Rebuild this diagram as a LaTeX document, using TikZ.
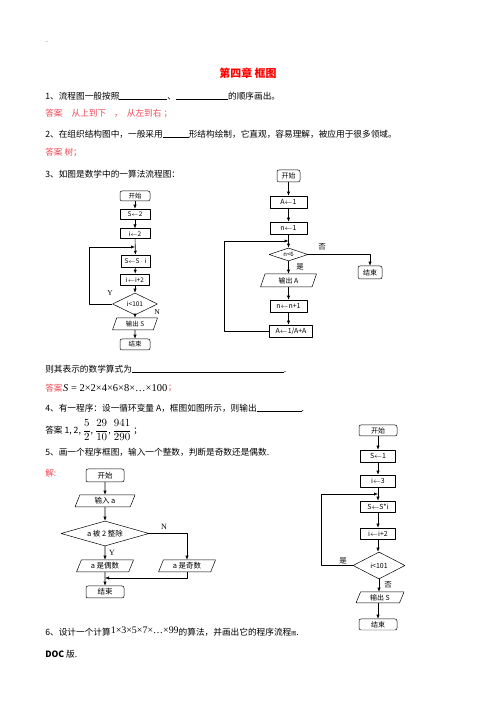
\documentclass[tikz,border=0pt]{standalone}
\usepackage{fontspec}
\setmainfont{Noto Sans CJK SC}
\newfontfamily\tms{Liberation Serif}
\usetikzlibrary{shapes.geometric,arrows.meta}
\definecolor{ansred}{RGB}{240,72,84}
\definecolor{titlered}{RGB}{255,0,0}
\newcommand\fsz[1]{\fontsize{#1}{#1}\selectfont}
\newcommand\blank[1]{\rule[-1.2pt]{#1bp}{0.8pt}}
\tikzset{
  txt/.style={anchor=west,inner sep=0pt,font=\fsz{8.7}},
  ans/.style={txt,text=ansred},
  flow/.style={draw,line width=0.5pt,inner sep=0pt,font=\fsz{7}},
  term/.style={flow,rectangle,rounded corners=2pt},
  proc/.style={flow,rectangle},
  io/.style={flow,trapezium,trapezium left angle=55,trapezium right angle=125,trapezium stretches body},
  cond/.style={flow,diamond},
  lbl/.style={inner sep=0pt,font=\fsz{7.5}},
}
\begin{document}
\begin{tikzpicture}[>={Latex[length=4bp,width=3.2bp]},line join=bevel,line width=0.6pt]
%%
\useasboundingbox (0,0) rectangle (496bp,702bp);
\node (dots) at (45bp,660bp) [txt,font=\fsz{5}] {..};
\node (title) at (248bp,629bp) [font=\fsz{11}\bfseries,text=titlered] {第四章\ 框图};
\node (q1) at (45bp,606bp) [txt] {1、流程图一般按照\blank{48}、\blank{52}的顺序画出。};
\node (a1txt) at (45bp,588bp) [ans] {答案\hspace{9pt}从上到下\hspace{8pt}，\hspace{4pt}从左到右\hspace{2pt}；};
\node (q2) at (45bp,568bp) [txt] {2、在组织结构图中，一般采用\blank{26}形结构绘制，它直观，容易理解，被应用于很多领域。};
\node (a2txt) at (45bp,549bp) [ans] {答案\ 树；};
\node (q3) at (45bp,528bp) [txt] {3、如图是数学中的一算法流程图：};
\node (q3b) at (45bp,333bp) [txt] {则其表示的数学算式为\blank{152}.};
\node (a3txt) at (45bp,314bp) [ans] {答案};
\node (a3math) at (a3txt.east) [txt,text=black,font=\tms\fsz{10.5}] {\textit{S} = 2×2×4×6×8×…×100};
\node (a3end) at (a3math.east) [ans] {；};
\node (q4) at (45bp,294bp) [txt] {4、有一程序：设一循环变量 A，框图如图所示，则输出\blank{45}.};
\node (a4txt) at (45bp,272bp) [txt] {答案 1, 2, {\fsz{11}$\displaystyle\frac{5}{2}$}, {\fsz{11}$\displaystyle\frac{29}{10}$}, {\fsz{11}$\displaystyle\frac{941}{290}$} ；};
\node (q5) at (45bp,250bp) [txt] {5、画一个程序框图，输入一个整数，判断是奇数还是偶数.};
\node (a5txt) at (45bp,229bp) [ans] {解:};
\node (q6) at (45bp,70bp) [txt] {6、设计一个计算\raisebox{2pt}{\tms\fsz{10}1×3×5×7×…×99}的算法，并画出它的程序流程{\fsz{5}图}.};
\node (doc) at (45bp,48bp) [txt] {{\bfseries DOC} 版.};
%
\begin{scope}[flow/.append style={font=\fsz{6.5}}]
\node (st1) at (135bp,506bp) [term,minimum width=30bp,minimum height=10bp] {开始};
\node (a1) at (135bp,488bp) [proc,minimum width=30bp,minimum height=10bp] {S$\leftarrow$2};
\node (b1) at (135bp,468.5bp) [proc,minimum width=30bp,minimum height=9.5bp] {i$\leftarrow$2};
\coordinate (j1) at (135bp,455bp);
\node (c1) at (135.5bp,441bp) [proc,minimum width=29bp,minimum height=12bp] {S$\leftarrow$S $\cdot$ i};
\node (d1) at (135bp,422.5bp) [proc,minimum width=29bp,minimum height=11bp] {i$\leftarrow$i+2};
\node (e1) at (135bp,398bp) [cond,minimum width=45bp,minimum height=22bp,aspect=2] {i<101};
\node (f1) at (135bp,378bp) [io,minimum width=45bp,minimum height=12bp] {输出 S};
\node (g1) at (135bp,357.5bp) [term,minimum width=30bp,minimum height=11bp] {结束};
\end{scope}
\node (y1) at (110bp,409bp) [lbl,font=\fsz{7.5}\tms] {Y};
\node (n1) at (157bp,390bp) [lbl,font=\fsz{7.5}\tms] {N};
\draw [->] (st1) -- (a1);
\draw [->] (a1) -- (b1);
\draw [->] (b1) -- (c1);
\draw [->] (c1) -- (d1);
\draw [->] (d1) -- (e1);
\draw [->] (e1) -- (f1);
\draw [->] (f1) -- (g1);
\draw [->] (e1.west) -- ++(-22.5bp,0) |- (j1);
%
\node (st2) at (288.5bp,526bp) [term,minimum width=23bp,minimum height=12bp] {开始};
\node (a2) at (288.5bp,500bp) [proc,minimum width=37bp,minimum height=12bp] {A$\leftarrow$1};
\node (b2) at (288.5bp,474bp) [proc,minimum width=37bp,minimum height=12bp] {n$\leftarrow$1};
\coordinate (j2) at (288.5bp,461bp);
\node (d2) at (288.5bp,447.5bp) [cond,minimum width=39bp,minimum height=13bp,aspect=3,font=\fsz{6}] {n<6};
\node (e2) at (370bp,429.5bp) [term,minimum width=24bp,minimum height=13bp] {结束};
\node (f2) at (288.5bp,421.5bp) [io,minimum width=56bp,minimum height=13bp] {输出 A};
\node (g2) at (288.5bp,396bp) [proc,minimum width=37bp,minimum height=12bp] {n$\leftarrow$n+1};
\node (h2) at (291bp,371bp) [proc,minimum width=43bp,minimum height=12bp] {A$\leftarrow$1/A+A};
\node (no2) at (322bp,455bp) [lbl] {否};
\node (yes2) at (300bp,435bp) [lbl] {是};
\draw [->] (st2) -- (a2);
\draw [->] (a2) -- (b2);
\draw [->] (b2) -- (d2);
\draw [->] (d2) -- (f2);
\draw [->] (f2) -- (g2);
\draw [->] (g2) -- (g2 |- h2.north);
\draw [->] (d2.east) -| (e2);
\draw [->] (h2.west) -- ++(-44.5bp,0) |- (j2);
%
\begin{scope}[flow/.append style={font=\fsz{7.5}}]
\node (st3) at (105bp,226.5bp) [term,minimum width=38bp,minimum height=13bp] {开始};
\node (a3) at (105bp,201bp) [io,minimum width=60bp,minimum height=12bp] {输入 a};
\node (d3) at (105bp,168.5bp) [cond,minimum width=88bp,minimum height=25bp,aspect=3.5] {a 被 2 整除};
\node (b3) at (105bp,136bp) [io,minimum width=57bp,minimum height=12bp] {a 是偶数};
\node (c3) at (187bp,136bp) [io,minimum width=57bp,minimum height=12bp] {a 是奇数};
\coordinate (m3) at (105bp,124bp);
\node (g3) at (105bp,110bp) [term,minimum width=38bp,minimum height=12bp] {结束};
\end{scope}
\node (n3) at (164bp,175bp) [lbl,font=\fsz{8}\tms] {N};
\node (y3) at (112bp,149bp) [lbl,font=\fsz{8}\tms] {Y};
\draw [->] (st3) -- (a3);
\draw [->] (a3) -- (d3);
\draw [->] (d3) -- (b3);
\draw [->] (d3.east) -| (c3);
\draw [->] (b3) -- (g3);
\draw [->] (c3) |- (m3);
%
\node (st4) at (378bp,271.5bp) [term,minimum width=38bp,minimum height=11bp] {开始};
\node (a4) at (378bp,246bp) [proc,minimum width=35bp,minimum height=12bp] {S$\leftarrow$1};
\node (b4) at (378bp,221bp) [proc,minimum width=35bp,minimum height=12bp] {i$\leftarrow$3};
\coordinate (j4) at (378bp,208bp);
\node (c4) at (378bp,195.5bp) [proc,minimum width=35bp,minimum height=11bp] {S$\leftarrow$S*i};
\node (d4) at (378bp,168.5bp) [proc,minimum width=35bp,minimum height=11bp] {i$\leftarrow$i+2};
\node (e4) at (379bp,136.5bp) [cond,minimum width=52bp,minimum height=27bp,aspect=2] {i<101};
\node (f4) at (380bp,104.5bp) [io,minimum width=48bp,minimum height=11bp] {输出 S};
\node (g4) at (378bp,77.5bp) [term,minimum width=38bp,minimum height=11bp] {结束};
\node (yes4) at (343bp,141bp) [lbl] {是};
\node (no4) at (388bp,117bp) [lbl] {否};
\draw [->] (st4) -- (a4);
\draw [->] (a4) -- (b4);
\draw [->] (b4) -- (c4);
\draw [->] (c4) -- (d4);
\draw [->] (d4) -- (d4 |- e4.north);
\draw [->] (e4.south) -- (e4.south |- f4.north);
\draw [->] (f4.south -| g4) -- (g4);
\draw [->] (e4.west) -- ++(-31bp,0) |- (j4);
%
\end{tikzpicture}
\end{document}
